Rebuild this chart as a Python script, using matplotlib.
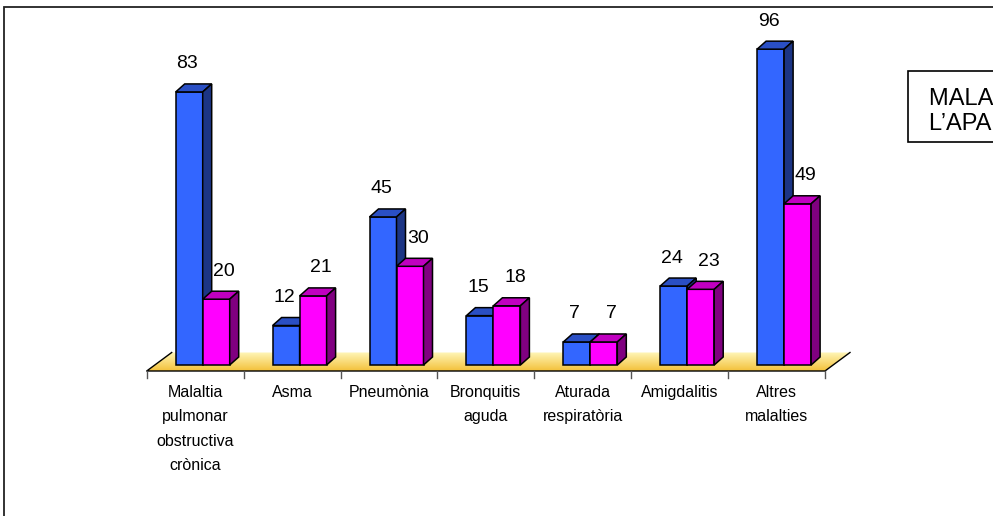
import numpy as np
import matplotlib
matplotlib.use("Agg")
import matplotlib.pyplot as plt
from matplotlib.patches import Polygon, Rectangle
from matplotlib.colors import LinearSegmentedColormap

plt.rcParams['font.family'] = ['Liberation Sans', 'DejaVu Sans']

categories = ["Malaltia\npulmonar\nobstructiva\ncrònica", "Asma", "Pneumònia",
              "Bronquitis\naguda", "Aturada\nrespiratòria", "Amigdalitis",
              "Altres\nmalalties"]
serie_blau = [83, 12, 45, 15, 7, 24, 96]
serie_rosa = [20, 21, 30, 18, 7, 23, 49]
legend_lines = ["MALALTIES DE", "L\u2019APARELL RESPIRATORI"]

W, H = 993, 516
# pixels -> data units (one category = 96.9 px, one unit of value = 3.29 px)
PX = 1 / 96.9
PY = 1 / 3.29

fig = plt.figure(figsize=(W / 100, H / 100), dpi=100)
ax = fig.add_axes([0, 0, 1, 1])
ax.set_xlim(-146.7 * PX, (W - 146.7) * PX)
ax.set_ylim(-(H - 365) * PY, 365 * PY)
ax.axis('off')

n = len(categories)

# floor (yellow parallelogram with gradient)
yf = -6 * PY
yb = 12.5 * PY
fdx = 25 * PX
floor = [(0, yf), (n, yf), (n + fdx, yb), (fdx, yb)]
fpoly = Polygon(floor, closed=True, facecolor='none', edgecolor='none')
ax.add_patch(fpoly)
grad = np.linspace(0, 1, 64).reshape(-1, 1)
cmap = LinearSegmentedColormap.from_list('floor', ['#f3c13a', '#fff6b8'])
im = ax.imshow(grad, extent=(0, n + fdx, yf, yb), origin='lower', cmap=cmap,
               aspect='auto', zorder=1)
im.set_clip_path(fpoly)
ax.plot([fdx, 0, n, n + fdx], [yb, yf, yf, yb], color='black', lw=1.0, zorder=2)
for i in range(n + 1):
    ax.plot([i, i], [yf, yf - 7 * PY], color='#555555', lw=1.0, zorder=2)

# 3D bars
ddx = 9 * PX
ddy = 8 * PY
bw = 27 * PX
styles = [('#3366ff', '#2a4fc4', '#1c3585'), ('#ff00ff', '#c000c0', '#800080')]


def bar3d(x, h, cols, z):
    front, top, side = cols
    ax.add_patch(Polygon([(x, 0), (x + bw, 0), (x + bw, h), (x, h)],
                         facecolor=front, edgecolor='black', lw=1.1, zorder=z))
    ax.add_patch(Polygon([(x, h), (x + bw, h), (x + bw + ddx, h + ddy), (x + ddx, h + ddy)],
                         facecolor=top, edgecolor='black', lw=1.1, zorder=z))
    ax.add_patch(Polygon([(x + bw, 0), (x + bw + ddx, ddy), (x + bw + ddx, h + ddy), (x + bw, h)],
                         facecolor=side, edgecolor='black', lw=1.1, zorder=z))


for i in range(n):
    left = i + 29 * PX
    for k, vals in enumerate([serie_blau, serie_rosa]):
        x = left + k * bw
        bar3d(x, vals[i], styles[k], 3 + i * 2 + k)
        off = -2 * PX if k == 0 else 8 * PX
        ax.text(x + bw / 2 + off, vals[i] + 28 * PY, str(vals[i]), ha='center',
                va='center', fontsize=14, zorder=30)

for i, c in enumerate(categories):
    ax.text(i + 0.5, -(385 - 365) * PY, c, ha='center', va='top', fontsize=11.5,
            linespacing=1.78, zorder=30)

# legend-like box on the right (cut by the picture edge)
fig.patches.append(Rectangle((907.7 / W, 1 - 142 / H), 200 / W, 71 / H,
                             transform=fig.transFigure, facecolor='white',
                             edgecolor='black', lw=1.2))
fig.text(929 / W, 1 - 105 / H, legend_lines[0], fontsize=17, va='baseline')
fig.text(929 / W, 1 - 130 / H, legend_lines[1], fontsize=17, va='baseline')

# outer frame
fig.patches.append(Rectangle((3.5 / W, -0.1), 1.2, 1 - 6.5 / H + 0.1,
                             transform=fig.transFigure, facecolor='none',
                             edgecolor='#222222', lw=1.3))

fig.savefig('out.png', dpi=100)
